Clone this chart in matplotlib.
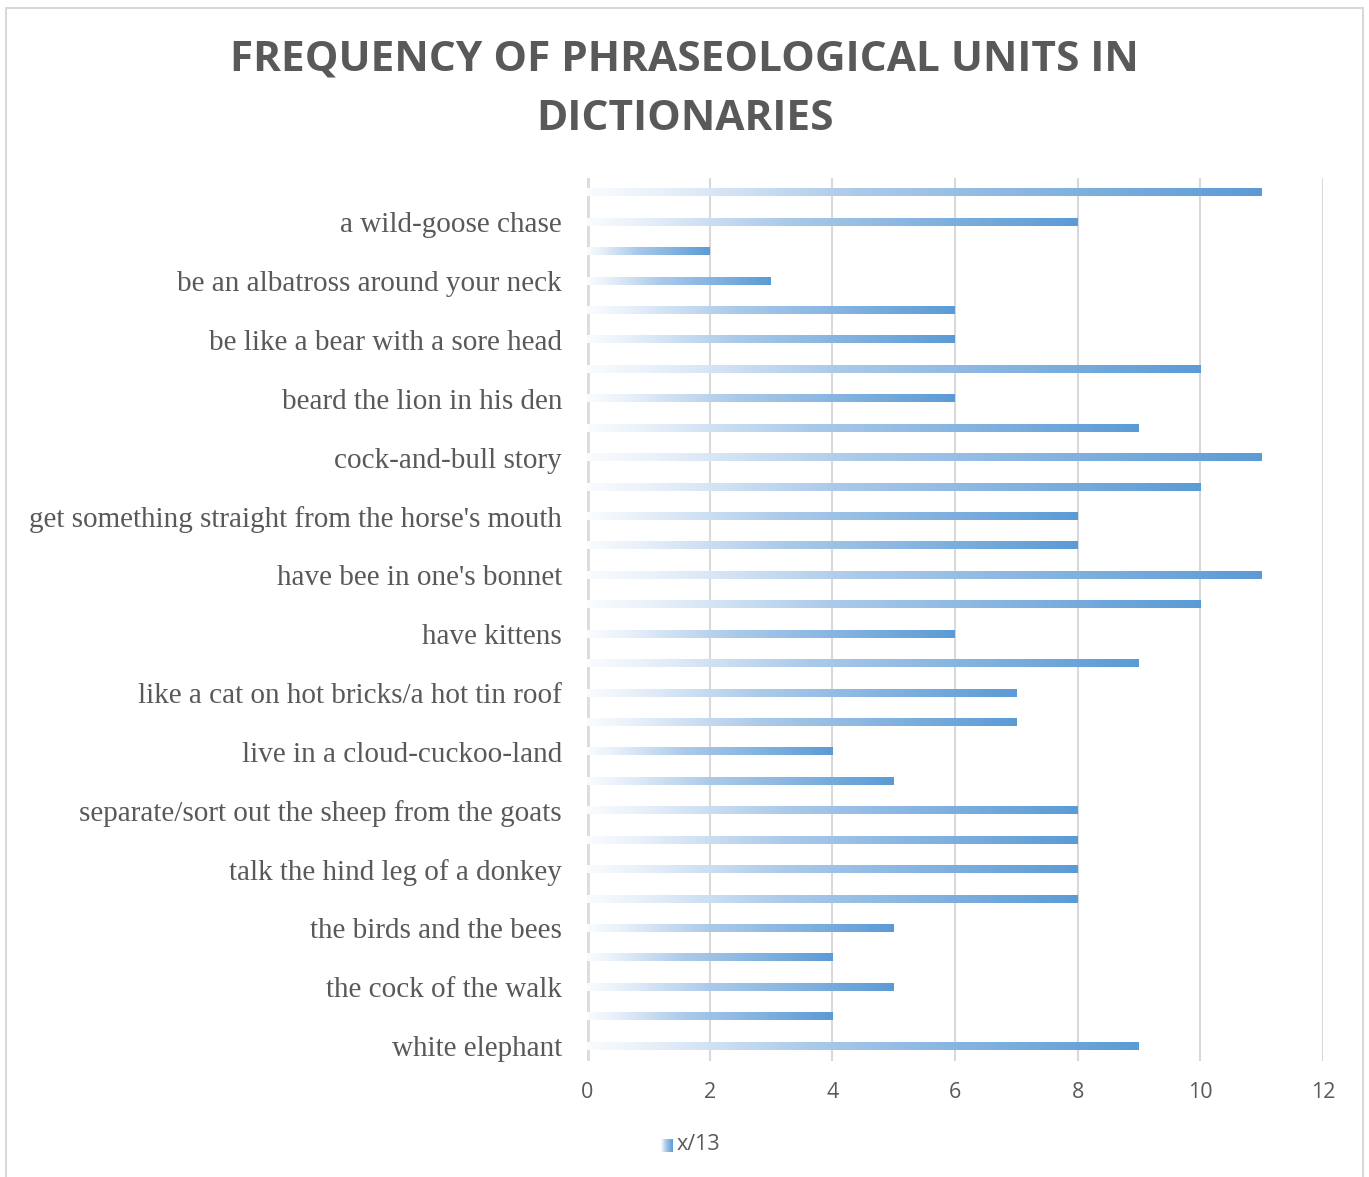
import numpy as np
import matplotlib.pyplot as plt
from matplotlib.colors import LinearSegmentedColormap
from matplotlib.patches import Rectangle

title_lines = ["FREQUENCY OF PHRASEOLOGICAL UNITS IN", "DICTIONARIES"]
series_name = "x/13"

# bar values, top to bottom
values = [11, 8, 2, 3, 6, 6, 10, 6, 9, 11, 10, 8, 8, 11, 10,
          6, 9, 7, 7, 4, 5, 8, 8, 8, 8, 5, 4, 5, 4, 9]
# only every second category is labelled in the original (2nd, 4th, ... from top)
labels = ["a wild-goose chase",
          "be an albatross around your neck",
          "be like a bear with a sore head",
          "beard the lion in his den",
          "cock-and-bull story",
          "get something straight from the horse's mouth",
          "have bee in one's bonnet",
          "have kittens",
          "like a cat on hot bricks/a hot tin roof",
          "live in a cloud-cuckoo-land",
          "separate/sort out the sheep from the goats",
          "talk the hind leg of a donkey",
          "the birds and the bees",
          "the cock of the walk",
          "white elephant"]
xticks = [0, 2, 4, 6, 8, 10, 12]

grey = '#595959'
fig = plt.figure(figsize=(13.69, 11.77), dpi=100)
fig.patches.append(Rectangle((0.0045, -0.01), 0.991, 1.003, transform=fig.transFigure,
                             fill=False, edgecolor='#D9D9D9', lw=1.5))

ax = fig.add_axes([0.4288, 0.0986, 0.5376, 0.7502])
cmap = LinearSegmentedColormap.from_list('bar', [(0, '#FAFCFE'), (0.12, '#E6EFF9'),
                                                (0.4, '#ABCAEA'), (1, '#5B9BD5')])
grad = np.linspace(0, 1, 256).reshape(1, -1)
n = len(values)
h = 0.12
for i, v in enumerate(values):
    y = n - 1 - i
    ax.imshow(grad, cmap=cmap, extent=[0, v, y - h, y + h], aspect='auto',
              zorder=3, interpolation='bilinear')

ax.set_xlim(0, 12)
ax.set_ylim(-0.5, n - 0.5)
ax.set_xticks(xticks)
ax.set_xticklabels([str(t) for t in xticks], fontsize=15.5, color=grey, family='Open Sans')
ypos = [n - 1 - i for i in range(1, n, 2)]
ax.set_yticks(ypos)
ax.set_yticklabels(labels, fontsize=21, color=grey, family='Liberation Serif')
ax.tick_params(axis='both', length=0)
ax.tick_params(axis='y', pad=18)
ax.tick_params(axis='x', pad=15)
ax.grid(axis='x', color='#D9D9D9', lw=1.5, zorder=1)
ax.set_axisbelow(True)
for s in ax.spines.values():
    s.set_visible(False)
ax.axvline(0, color='#DCDCDC', lw=3.5, zorder=2)

fig.text(0.5, 1 - 60 / 1177, title_lines[0], ha='center', va='center',
         fontsize=30.5, fontweight='bold', color=grey, family='Open Sans')
fig.text(0.5, 1 - 119 / 1177, title_lines[1], ha='center', va='center',
         fontsize=30.5, fontweight='bold', color=grey, family='Open Sans')

# legend
lax = fig.add_axes([661 / 1369, 1 - 1152 / 1177, 12 / 1369, 13 / 1177])
lax.imshow(grad, cmap=cmap, aspect='auto', interpolation='bilinear')
lax.axis('off')
fig.text(677 / 1369, 1 - 1145 / 1177, series_name, ha='left', va='center',
         fontsize=15.5, color=grey, family='Open Sans')

fig.savefig('out.png', dpi=100)
